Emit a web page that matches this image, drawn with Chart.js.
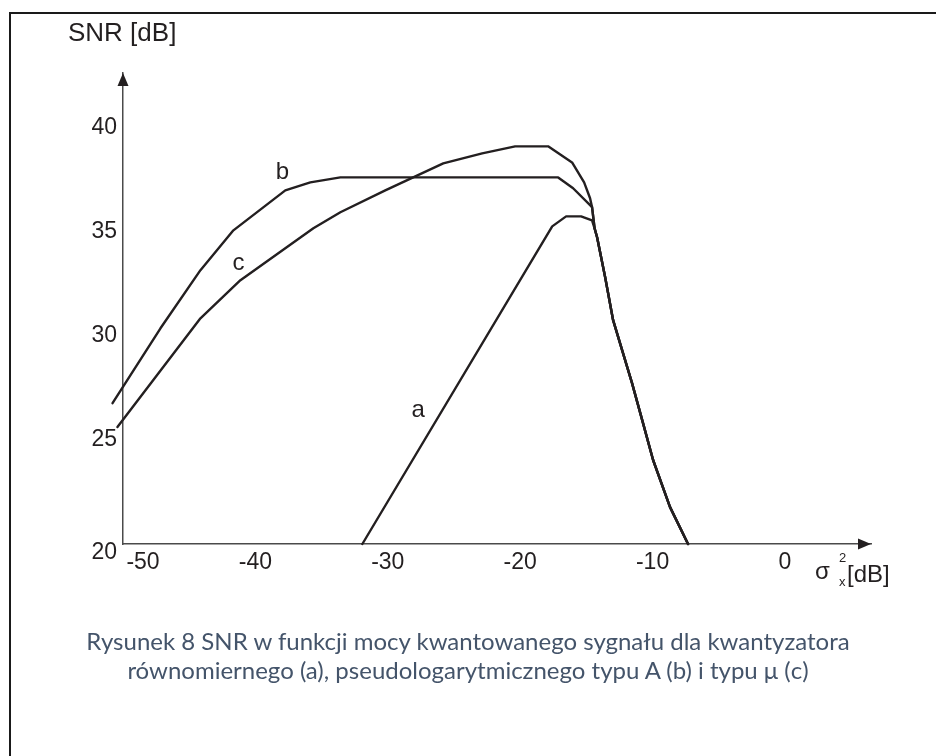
<!DOCTYPE html>
<html lang="pl">
<head>
<meta charset="UTF-8">
<script src="https://cdn.jsdelivr.net/npm/chart.js"></script>
<title>SNR</title>
<style>
  body { margin:0; background:#fff; width:936px; height:756px; overflow:hidden; position:relative; }
  #frame { position:absolute; left:9px; top:12px; width:1000px; height:1000px; border-left:2px solid #1a1a1a; border-top:2px solid #1a1a1a; }
  #chart { position:absolute; left:0; top:0; }
  #caption { position:absolute; left:0; width:936px; top:626px; text-align:center; font-family:Lato, "Open Sans", sans-serif; font-size:24px; line-height:29px; color:#44546a; }
</style>
</head>
<body>
<div id="frame"></div>
<canvas id="chart" width="936" height="756"></canvas>
<div id="caption">Rysunek 8 SNR w funkcji mocy kwantowanego sygnału dla kwantyzatora<br>równomiernego (a), pseudologarytmicznego typu A (b) i typu μ (c)</div>
<script>
// values (x: sigma_x^2 in dB, y: SNR in dB)
const xTicks = [-50, -40, -30, -20, -10, 0];
const yTicks = [20, 25, 30, 35, 40];

// shared steep fall on the right (all three curves end on it)
const tailX = [-14.38, -14.19, -13.58, -12.98, -12.30, -11.55, -10.72, -9.96, -8.68, -7.32];
const tailY = [35.15, 34.72, 32.80, 30.74, 29.30, 27.72, 25.80, 24.03, 21.77, 20.0];

// a - uniform
const aX = [-31.92, -17.58, -16.53, -15.40, -14.57];
const aY = [20.0, 35.24, 35.72, 35.72, 35.53];

// b - A-law
const bX = [-50.79, -47.17, -44.15, -41.66, -37.74, -35.85, -33.58, -17.13, -16.00, -14.57];
const bY = [26.76, 30.35, 33.14, 35.05, 36.97, 37.35, 37.59, 37.59, 37.07, 36.16];

// c - mu-law
const cX = [-50.42, -44.15, -41.13, -35.62, -33.58, -30.19, -25.81, -22.87, -20.38, -17.89, -16.08, -15.17, -14.72, -14.57];
const cY = [25.61, 30.83, 32.66, 35.15, 35.92, 36.97, 38.26, 38.74, 39.08, 39.08, 38.31, 37.35, 36.59, 36.16];

const curveNames = ['a', 'b', 'c'];

function pts(xs, ys) {
  const out = xs.map((x, i) => ({x: x, y: ys[i]}));
  tailX.forEach((x, i) => out.push({x: x, y: tailY[i]}));
  return out;
}

const ink = '#231f20';
const font = '"Liberation Sans", Arial, sans-serif';

// where the little a/b/c letters sit (data coords)
const letterPos = { a: [-27.7, 26.4], b: [-37.96, 37.83], c: [-41.28, 33.47] };

const decor = {
  id: 'decor',
  afterDraw(chart) {
    const {ctx, chartArea: a, scales: {x, y}} = chart;
    ctx.save();
    ctx.fillStyle = ink;

    // arrow heads
    ctx.beginPath();
    ctx.moveTo(a.left, a.top);
    ctx.lineTo(a.left - 5.5, a.top + 13);
    ctx.lineTo(a.left + 5.5, a.top + 13);
    ctx.fill();
    ctx.beginPath();
    ctx.moveTo(a.right, a.bottom);
    ctx.lineTo(a.right - 13, a.bottom - 5.5);
    ctx.lineTo(a.right - 13, a.bottom + 5.5);
    ctx.fill();

    // tick labels
    ctx.font = '23px ' + font;
    ctx.textBaseline = 'middle';
    ctx.textAlign = 'right';
    yTicks.forEach(v => {
      const dy = v === yTicks[0] ? 9 : 0;
      ctx.fillText(String(v), a.left - 6, y.getPixelForValue(v) + dy);
    });
    ctx.textAlign = 'center';
    xTicks.forEach(v => {
      const dx = v === xTicks[0] ? 20 : 0;
      ctx.fillText(String(v), x.getPixelForValue(v) + dx, a.bottom + 19);
    });

    // axis titles
    ctx.textAlign = 'left';
    ctx.font = '26px ' + font;
    ctx.fillText('SNR [dB]', 68, 34);
    ctx.font = '24px ' + font;
    ctx.fillText('σ', 815, 572);
    ctx.fillText('[dB]', 847, 575);
    ctx.font = '13px ' + font;
    ctx.fillText('2', 839, 558);
    ctx.fillText('x', 839, 582);

    // curve letters
    ctx.font = '24px ' + font;
    ctx.textAlign = 'center';
    curveNames.forEach(n => {
      const p = letterPos[n];
      ctx.fillText(n, x.getPixelForValue(p[0]), y.getPixelForValue(p[1]));
    });
    ctx.restore();
  }
};

const axisBorder = {display: true, color: '#4a4a4a', width: 1.5};

new Chart(document.getElementById('chart'), {
  type: 'line',
  data: {
    datasets: [
      {label: 'a', data: pts(aX, aY)},
      {label: 'b', data: pts(bX, bY)},
      {label: 'c', data: pts(cX, cY)}
    ].map(d => Object.assign(d, {clip: false, fill: false, borderColor: ink}))
  },
  options: {
    responsive: false,
    animation: false,
    devicePixelRatio: 1,
    layout: {padding: {left: 123, right: 65, top: 73, bottom: 212}},
    plugins: {legend: {display: false}, tooltip: {enabled: false}},
    elements: {
      line: {tension: 0, borderWidth: 2.4, borderJoinStyle: 'round', borderCapStyle: 'round'},
      point: {radius: 0}
    },
    scales: {
      x: {
        type: 'linear', min: -50, max: 6.5,
        grid: {display: false}, ticks: {display: false}, border: axisBorder,
        afterFit: s => { s.height = 0; }
      },
      y: {
        type: 'linear', min: 20, max: 42.6,
        grid: {display: false}, ticks: {display: false}, border: axisBorder,
        afterFit: s => { s.width = 0; }
      }
    }
  },
  plugins: [decor]
});
</script>
</body>
</html>
